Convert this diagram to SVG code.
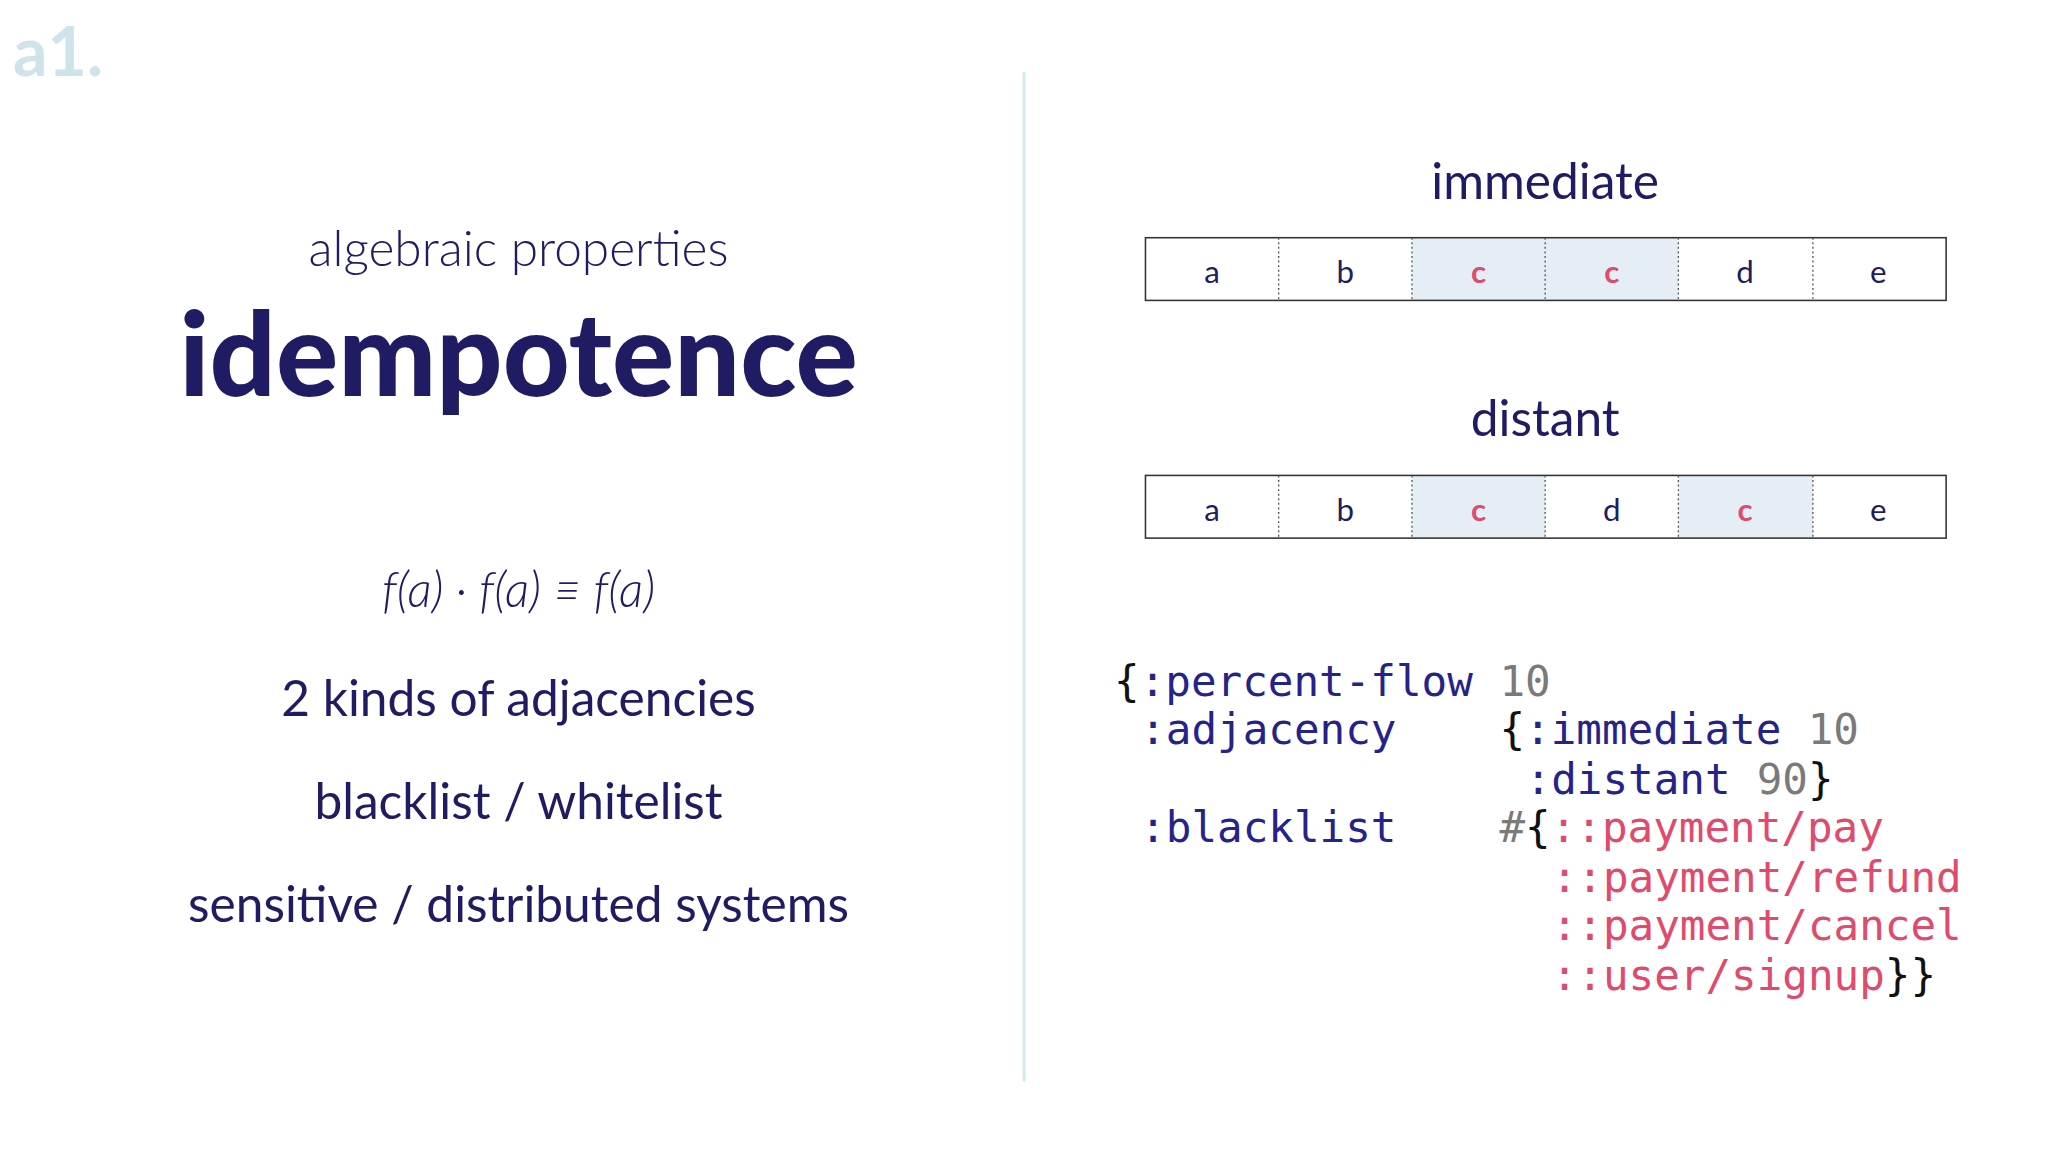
<svg xmlns="http://www.w3.org/2000/svg" width="2048" height="1152" viewBox="0 0 2048 1152">
<style>
.h{font-family:Lato,"Open Sans",sans-serif;fill:#1f1c63;text-anchor:middle}
.c{font-family:"DejaVu Sans Mono",monospace;font-size:32.6px}
.k{fill:#25238a}.n{fill:#7a7a7a}.b{fill:#111}.r{fill:#e04a6c}
.cell{font-family:Lato,sans-serif;font-size:24px;fill:#1f1c63;text-anchor:middle}
.cr{fill:#e04a6c;font-weight:bold}
.sep{stroke:#555;stroke-width:1;stroke-dasharray:1.5 2}
.box{fill:none;stroke:#333;stroke-width:1.2}
.hl{fill:#e5eef4}
</style>
<rect width="2048" height="1152" fill="#fff"/>
<g transform="scale(1.30612)">
<g id="label"><text x="10" y="58" font-family="Lato,sans-serif" font-weight="bold" font-size="52" fill="#cfe3ea">a1.</text></g>
<line x1="784" y1="55" x2="784" y2="828" stroke="#cde8e8" stroke-width="2"/>
<g id="left">
<text class="h" x="397" y="204" font-size="38" font-weight="300">algebraic properties</text>
<text class="h" x="397" y="303" font-size="89" font-weight="900">idempotence</text>
<text class="h" x="397" y="465" font-size="37" font-weight="300" font-style="italic">f(a) · f(a) ≡ f(a)</text>
<text class="h" x="397" y="548" font-size="38">2 kinds of adjacencies</text>
<text class="h" x="397" y="627" font-size="38">blacklist / whitelist</text>
<text class="h" x="397" y="706" font-size="38">sensitive / distributed systems</text>
</g>
<g id="immediate">
<text class="h" x="1183" y="152" font-size="38">immediate</text>
<rect class="hl" x="1081" y="182" width="204" height="48"/>
<rect class="box" x="877" y="182" width="613" height="48"/>
<line class="sep" x1="979" y1="182" x2="979" y2="230"/><line class="sep" x1="1081" y1="182" x2="1081" y2="230"/><line class="sep" x1="1183" y1="182" x2="1183" y2="230"/><line class="sep" x1="1285" y1="182" x2="1285" y2="230"/><line class="sep" x1="1388" y1="182" x2="1388" y2="230"/>
<text class="cell" x="928" y="217">a</text><text class="cell" x="1030" y="217">b</text><text class="cell cr" x="1132" y="217">c</text><text class="cell cr" x="1234" y="217">c</text><text class="cell" x="1336" y="217">d</text><text class="cell" x="1438" y="217">e</text>
</g>
<g id="distant">
<text class="h" x="1183" y="334" font-size="38">distant</text>
<rect class="hl" x="1081" y="364" width="102" height="48"/><rect class="hl" x="1285" y="364" width="103" height="48"/>
<rect class="box" x="877" y="364" width="613" height="48"/>
<line class="sep" x1="979" y1="364" x2="979" y2="412"/><line class="sep" x1="1081" y1="364" x2="1081" y2="412"/><line class="sep" x1="1183" y1="364" x2="1183" y2="412"/><line class="sep" x1="1285" y1="364" x2="1285" y2="412"/><line class="sep" x1="1388" y1="364" x2="1388" y2="412"/>
<text class="cell" x="928" y="399">a</text><text class="cell" x="1030" y="399">b</text><text class="cell cr" x="1132" y="399">c</text><text class="cell" x="1234" y="399">d</text><text class="cell cr" x="1336" y="399">c</text><text class="cell" x="1438" y="399">e</text>
</g>
<g id="code" class="c">
<text x="853" y="533"><tspan class="b">{</tspan><tspan class="k">:percent-flow</tspan><tspan class="n" x="1148">10</tspan></text>
<text x="873" y="570"><tspan class="k">:adjacency</tspan><tspan class="b" x="1148">{</tspan><tspan class="k">:immediate</tspan><tspan class="n" x="1384">10</tspan></text>
<text x="1168" y="608"><tspan class="k">:distant</tspan><tspan class="n" x="1345">90</tspan><tspan class="b">}</tspan></text>
<text x="873" y="645"><tspan class="k">:blacklist</tspan><tspan class="n" x="1148">#</tspan><tspan class="b">{</tspan><tspan class="r">::payment/pay</tspan></text>
<text x="1188" y="683" class="r">::payment/refund</text>
<text x="1188" y="720" class="r">::payment/cancel</text>
<text x="1188" y="758"><tspan class="r">::user/signup</tspan><tspan class="b">}}</tspan></text>
</g>
</g>
</svg>
